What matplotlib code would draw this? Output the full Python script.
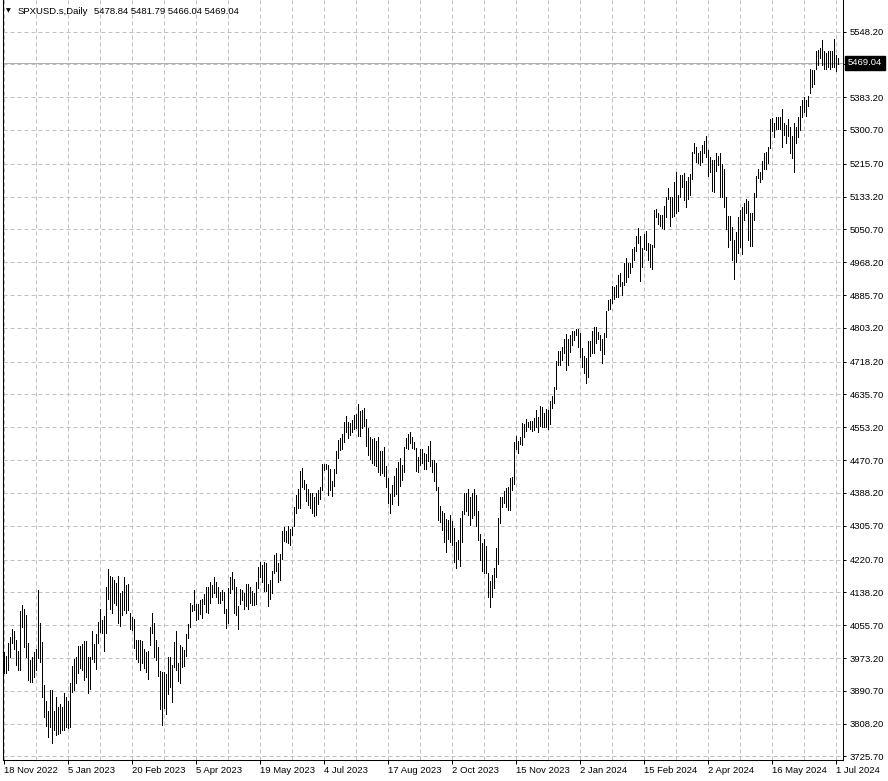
import matplotlib
matplotlib.use("Agg")
import matplotlib.pyplot as plt
from matplotlib.collections import LineCollection
import numpy as np

symbol = "SPXUSD.s,Daily"
last_ohlc = [5478.84, 5481.79, 5466.04, 5469.04]

highs = [
    3989.0, 3978.2, 4010.1, 4026.7, 4045.3, 4041.8, 4018.4, 3991.5, 4092.1, 4106.4,
    4095.6, 4081.3, 4010.1, 3968.2, 3976.5, 3989.0, 3995.1, 4144.1, 4060.4, 4014.2,
    3905.3, 3865.8, 3840.7, 3892.7, 3892.7, 3840.7, 3875.9, 3850.8, 3857.5, 3849.2,
    3884.5, 3875.9, 3865.8, 3909.6, 3953.1, 3969.9, 3974.9, 4003.4, 4003.4, 4008.4,
    4016.7, 4016.7, 3974.9, 3974.9, 4041.8, 4008.4, 4033.5, 4064.4, 4095.6, 4068.7,
    4078.8, 4150.9, 4196.9, 4179.3, 4176.1, 4169.3, 4162.5, 4179.3, 4135.8, 4142.4,
    4176.1, 4157.5, 4159.2, 4085.6, 4075.5, 4070.5, 4018.4, 4018.4, 4018.4, 4016.7,
    3995.1, 3989.0, 3991.5, 4050.4, 4085.6, 4061.9, 4018.4, 4000.1, 3941.3, 3939.0,
    3939.0, 3933.0, 3976.5, 3976.5, 3955.6, 4014.2, 4041.8, 3959.9, 4005.9, 4000.1,
    3993.3, 4033.5, 4058.7, 4112.2, 4106.4, 4144.1, 4108.9, 4108.9, 4119.0, 4120.8,
    4134.1, 4152.4, 4150.9, 4164.3, 4156.7, 4176.1, 4164.3, 4150.9, 4139.1, 4144.1,
    4139.1, 4095.6, 4149.2, 4177.6, 4189.4, 4172.5, 4150.9, 4103.9, 4147.4, 4144.1,
    4137.4, 4159.2, 4159.2, 4152.4, 4142.4, 4135.8, 4165.0, 4202.7, 4214.5, 4207.0,
    4214.5, 4212.8, 4159.2, 4169.3, 4191.1, 4232.9, 4237.9, 4212.8, 4234.6, 4293.2,
    4303.3, 4293.2, 4305.0, 4298.2, 4303.3, 4352.0, 4383.7, 4397.3, 4444.1, 4450.8,
    4420.7, 4410.6, 4398.8, 4388.8, 4388.8, 4377.2, 4387.2, 4395.5, 4403.8, 4461.0,
    4461.0, 4461.0, 4457.7, 4449.2, 4418.9, 4447.6, 4494.4, 4521.2, 4527.5, 4535.5,
    4565.7, 4582.3, 4567.2, 4563.9, 4572.3, 4584.1, 4587.4, 4611.0, 4594.2, 4597.5,
    4601.0, 4574.0, 4550.7, 4528.8, 4523.8, 4525.5, 4518.7, 4528.8, 4493.3, 4493.3,
    4503.3, 4455.1, 4425.0, 4386.2, 4408.1, 4431.5, 4451.6, 4466.7, 4476.7, 4458.4,
    4503.3, 4525.5, 4535.5, 4540.6, 4528.8, 4517.0, 4500.4, 4478.5, 4498.6, 4497.8,
    4489.2, 4485.3, 4506.9, 4518.7, 4470.2, 4470.2, 4463.4, 4403.0, 4355.3, 4342.7,
    4337.7, 4322.6, 4319.4, 4332.7, 4317.6, 4300.8, 4265.6, 4269.1, 4325.9, 4342.7,
    4388.0, 4388.0, 4398.1, 4378.0, 4388.0, 4398.1, 4383.0, 4342.7, 4284.9, 4261.5,
    4271.6, 4254.8, 4186.1, 4167.5, 4182.6, 4198.7, 4249.0, 4325.1, 4377.2, 4377.2,
    4393.8, 4399.8, 4403.8, 4426.5, 4429.0, 4517.0, 4531.3, 4519.5, 4528.0, 4564.7,
    4561.5, 4573.3, 4567.2, 4568.3, 4568.3, 4575.8, 4596.7, 4579.8, 4606.7, 4605.0,
    4588.4, 4599.2, 4596.7, 4620.0, 4631.9, 4653.7, 4719.1, 4744.2, 4744.2, 4755.8,
    4775.9, 4787.7, 4775.9, 4784.5, 4796.0, 4796.0, 4799.5, 4801.1, 4791.0, 4752.5,
    4732.4, 4727.4, 4770.9, 4770.9, 4794.5, 4804.6, 4804.6, 4792.8, 4786.0, 4774.4,
    4789.5, 4846.3, 4873.2, 4876.5, 4908.4, 4906.6, 4910.2, 4935.3, 4941.1, 4918.5,
    4965.5, 4978.8, 4965.5, 4965.5, 5002.2, 5007.2, 5034.1, 5054.2, 5034.1, 5003.9,
    5039.1, 5045.9, 5017.3, 5014.0, 5010.7, 5099.5, 5102.7, 5092.7, 5086.1, 5086.1,
    5109.5, 5132.9, 5154.8, 5132.9, 5132.9, 5169.9, 5195.0, 5137.9, 5186.7, 5186.7,
    5191.7, 5171.6, 5181.7, 5189.9, 5245.3, 5267.1, 5258.6, 5243.5, 5247.0, 5263.6,
    5272.2, 5285.5, 5250.3, 5233.5, 5225.2, 5225.2, 5242.0, 5235.2, 5242.0, 5215.1,
    5201.8, 5132.9, 5084.4, 5084.4, 5057.5, 5024.0, 5044.2, 5082.6, 5099.5, 5106.2,
    5116.3, 5127.9, 5122.8, 5091.2, 5091.2, 5141.4, 5184.9, 5203.3, 5195.0, 5222.6,
    5242.8, 5245.3, 5258.6, 5329.0, 5330.7, 5318.9, 5332.5, 5332.5, 5332.5, 5352.6,
    5317.4, 5313.2, 5327.5, 5307.4, 5285.5, 5317.4, 5308.9, 5332.5, 5360.9, 5376.0,
    5382.8, 5376.0, 5386.1, 5453.2, 5451.4, 5451.4, 5500.0, 5501.7, 5506.0, 5526.8,
    5500.0, 5495.0, 5500.0, 5500.0, 5500.0, 5530.1, 5490.0, 5481.79,
]

lows = [
    3934.7, 3936.2, 3943.0, 3976.5, 4010.1, 3995.1, 3955.6, 3943.0, 3943.0, 4051.9,
    4001.6, 3976.5, 3917.9, 3913.6, 3913.6, 3926.2, 3943.0, 3972.4, 3963.9, 3875.9,
    3825.6, 3802.2, 3775.3, 3800.5, 3760.3, 3792.2, 3780.3, 3782.1, 3783.8, 3792.2,
    3792.2, 3800.5, 3797.2, 3800.5, 3888.5, 3892.7, 3911.1, 3934.7, 3947.3, 3943.0,
    3917.9, 3926.2, 3884.5, 3894.5, 3969.9, 3963.9, 3946.3, 4011.7, 4039.3, 4035.3,
    3991.5, 4036.8, 4120.8, 4095.6, 4087.1, 4110.7, 4107.2, 4060.4, 4053.6, 4081.3,
    4093.9, 4085.6, 4093.9, 4045.3, 4043.6, 3997.6, 3969.9, 3963.9, 3943.0, 3961.4,
    3947.3, 3939.0, 3919.7, 4005.9, 4035.3, 3974.9, 3968.2, 3928.0, 3844.7, 3804.7,
    3847.2, 3832.4, 3882.7, 3901.0, 3863.3, 3949.8, 3943.0, 3916.1, 3909.6, 3951.3,
    3953.1, 3978.2, 4022.7, 4050.4, 4090.6, 4093.9, 4068.7, 4071.2, 4083.8, 4073.0,
    4108.9, 4088.8, 4085.6, 4112.2, 4127.3, 4135.8, 4127.3, 4112.2, 4112.2, 4119.0,
    4085.6, 4047.9, 4061.9, 4135.8, 4147.4, 4087.1, 4080.5, 4046.9, 4108.9, 4119.0,
    4097.1, 4103.9, 4097.1, 4110.7, 4106.4, 4107.2, 4108.2, 4148.4, 4176.1, 4164.3,
    4142.4, 4140.9, 4103.9, 4122.3, 4137.4, 4187.6, 4192.7, 4164.3, 4169.3, 4221.3,
    4268.1, 4264.8, 4263.1, 4258.0, 4282.4, 4305.0, 4338.5, 4349.5, 4349.5, 4403.8,
    4397.3, 4368.6, 4357.8, 4349.5, 4338.5, 4330.2, 4332.7, 4360.3, 4373.7, 4395.5,
    4445.8, 4447.6, 4383.7, 4395.5, 4380.5, 4405.6, 4439.1, 4476.5, 4496.1, 4498.6,
    4516.9, 4542.1, 4527.0, 4533.8, 4540.6, 4548.9, 4550.7, 4532.1, 4532.1, 4550.7,
    4557.4, 4506.9, 4483.5, 4473.5, 4462.7, 4458.4, 4455.1, 4441.5, 4433.3, 4437.5,
    4431.5, 4402.2, 4362.9, 4337.7, 4361.1, 4381.2, 4384.7, 4357.8, 4404.8, 4420.7,
    4440.0, 4500.6, 4498.6, 4513.7, 4500.6, 4498.6, 4443.3, 4441.5, 4458.4, 4463.5,
    4447.5, 4447.5, 4468.5, 4456.7, 4440.0, 4418.1, 4396.3, 4319.4, 4314.3, 4295.7,
    4265.6, 4238.9, 4272.4, 4265.6, 4257.3, 4215.3, 4200.2, 4222.1, 4205.2, 4265.6,
    4334.4, 4342.7, 4332.7, 4307.6, 4324.1, 4332.7, 4306.3, 4269.8, 4219.6, 4192.7,
    4186.1, 4186.1, 4127.3, 4102.2, 4127.3, 4149.2, 4176.1, 4209.5, 4311.8, 4352.0,
    4363.6, 4352.0, 4345.3, 4345.3, 4395.5, 4411.6, 4499.4, 4489.3, 4511.2, 4509.4,
    4529.5, 4543.1, 4553.2, 4548.1, 4544.6, 4546.3, 4553.2, 4541.3, 4556.4, 4553.2,
    4553.2, 4553.2, 4548.1, 4561.5, 4601.7, 4615.0, 4650.2, 4710.5, 4709.0, 4722.4,
    4740.7, 4697.2, 4709.0, 4743.2, 4760.8, 4772.6, 4784.5, 4754.3, 4729.2, 4705.5,
    4690.4, 4665.3, 4680.4, 4732.4, 4740.7, 4739.2, 4764.4, 4774.4, 4747.5, 4715.6,
    4737.4, 4779.4, 4848.1, 4849.8, 4866.4, 4875.0, 4880.0, 4880.0, 4908.4, 4885.8,
    4910.9, 4919.2, 4931.8, 4940.3, 4956.9, 4973.8, 4997.2, 5017.3, 4921.7, 4955.4,
    5000.7, 4998.9, 4973.8, 4956.9, 4950.4, 5005.7, 5082.6, 5064.3, 5059.2, 5054.2,
    5052.4, 5081.1, 5127.9, 5059.2, 5081.1, 5084.4, 5092.7, 5096.2, 5132.9, 5156.5,
    5124.6, 5107.8, 5127.9, 5136.4, 5176.6, 5242.0, 5220.1, 5216.9, 5211.8, 5220.1,
    5243.5, 5233.5, 5184.9, 5195.0, 5146.5, 5144.7, 5196.7, 5211.8, 5132.9, 5132.9,
    5107.8, 5052.4, 5007.2, 5024.0, 4973.8, 4926.8, 4968.7, 4990.6, 5007.2, 4988.8,
    5074.3, 5091.2, 5024.0, 5009.0, 5009.0, 5074.3, 5132.9, 5179.9, 5169.9, 5177.4,
    5202.5, 5201.8, 5216.9, 5254.5, 5298.8, 5283.7, 5302.3, 5302.3, 5303.9, 5257.1,
    5288.0, 5267.1, 5285.5, 5242.0, 5229.4, 5195.7, 5267.1, 5283.7, 5300.6, 5332.5,
    5346.6, 5335.8, 5360.9, 5394.4, 5407.9, 5416.2, 5453.2, 5464.0, 5481.6, 5464.8,
    5453.2, 5453.2, 5458.2, 5453.2, 5459.9, 5459.9, 5449.8, 5466.04,
]

price_ticks = [5548.20, 5465.70, 5383.20, 5300.70, 5215.70, 5133.20, 5050.70,
               4968.20, 4885.70, 4803.20, 4718.20, 4635.70, 4553.20, 4470.70,
               4388.20, 4305.70, 4220.70, 4138.20, 4055.70, 3973.20, 3890.70,
               3808.20, 3725.70]

date_labels = ["18 Nov 2022", "5 Jan 2023", "20 Feb 2023", "5 Apr 2023",
               "19 May 2023", "4 Jul 2023", "17 Aug 2023", "2 Oct 2023",
               "15 Nov 2023", "2 Jan 2024", "15 Feb 2024", "2 Apr 2024",
               "16 May 2024", "1 Jul 2024"]

FONT = "Liberation Sans"
FS = 6.8
W, H = 888, 781
fig = plt.figure(figsize=(W / 100, H / 100), dpi=100)
fig.patch.set_facecolor("white")
ax = fig.add_axes([2.5 / W, 21 / H, (843 - 2.5) / W, 760 / H])
ax.set_facecolor("white")

n = len(highs)
idx = np.arange(n) + 0.25
segs = [[(i, lo), (i, hi)] for i, lo, hi in zip(idx, lows, highs)]
lc = LineCollection(segs, colors="black", linewidths=0.72, antialiaseds=False, zorder=3)
ax.add_collection(lc)

ax.set_xlim(-0.5, 419.75)
ax.set_ylim(3716.8, 5627.4)

# last price line
ax.axhline(last_ohlc[3], color="#b0b0b0", lw=0.75, zorder=2)

# y axis on right
ax.yaxis.tick_right()
ax.set_yticks(price_ticks)
ylabels = ["%.2f" % p for p in price_ticks]
ylabels[1] = ""
ax.set_yticklabels(ylabels, fontsize=FS, family=FONT)
ax.tick_params(axis="y", which="major", direction="out", length=2.5, width=0.72, pad=2.5, colors="black")

# x axis
label_pos = list(range(0, 32 * len(date_labels), 32))
ax.set_xticks(label_pos)
ax.set_xticklabels(date_labels, fontsize=FS, family=FONT, ha="left")
ax.set_xticks(list(range(16, 420, 32)), minor=True)
ax.tick_params(axis="x", which="major", direction="out", length=3, width=0.72, pad=1.5)
ax.tick_params(axis="x", which="minor", length=0)
for lab in ax.get_xticklabels():
    lab.set_horizontalalignment("left")

ax.grid(True, which="both", color="#c0c0c0", linestyle=(0, (4, 3)), linewidth=0.72, zorder=0)
ax.set_axisbelow(True)

for s in ["left", "right", "bottom"]:
    ax.spines[s].set_color("black")
    ax.spines[s].set_linewidth(0.75)
ax.spines["top"].set_visible(False)

# price box
ax.annotate("%.2f" % last_ohlc[3], xy=(1, last_ohlc[3]), xycoords=("axes fraction", "data"),
            xytext=(5, 0), textcoords="offset pixels", ha="left", va="center",
            color="white", fontsize=FS, family=FONT,
            bbox=dict(boxstyle="square,pad=0.3", fc="black", ec="black"),
            annotation_clip=False, zorder=10)

# header
fig.text(6 / W, 1 - 11 / H, "\u25bc", fontsize=4.5, family="DejaVu Sans", va="center", ha="left")
fig.text(18 / W, 1 - 11 / H, symbol, fontsize=FS, family=FONT, va="center", ha="left")
fig.text(94 / W, 1 - 11 / H, " ".join("%.2f" % v for v in last_ohlc), fontsize=FS,
         family=FONT, va="center", ha="left")

fig.savefig("out.png", dpi=100, facecolor="white")
